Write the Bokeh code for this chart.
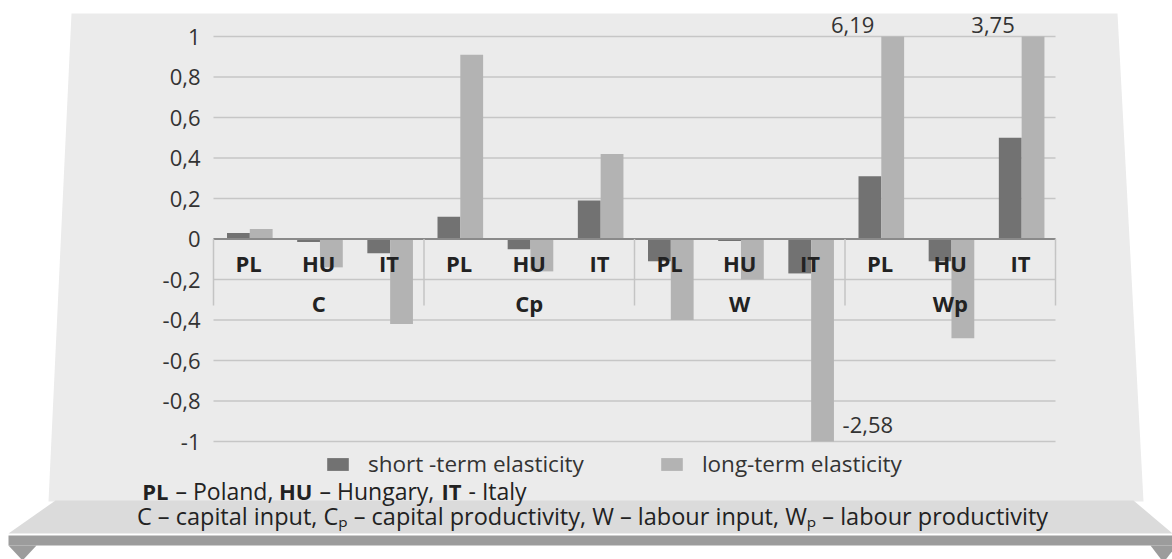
import numpy as np
from bokeh.plotting import figure
from bokeh.models import Range1d, PolyAnnotation, Legend, LegendItem, ColumnDataSource
from bokeh.core.properties import value
from bokeh.embed import file_html
from bokeh.resources import INLINE

# ---------------- data ----------------
groups = ["C", "Cp", "W", "Wp"]
countries = ["PL", "HU", "IT"]
short_term = [0.03, -0.015, -0.07, 0.11, -0.05, 0.19, -0.11, -0.01, -0.17, 0.31, -0.11, 0.50]
long_term = [0.05, -0.14, -0.42, 0.91, -0.16, 0.42, -0.40, -0.20, -2.58, 6.19, -0.49, 3.75]
y_ticks = [-1, -0.8, -0.6, -0.4, -0.2, 0, 0.2, 0.4, 0.6, 0.8, 1]
series_names = ["short -term elasticity", "long-term elasticity"]
note_codes = ["PL", "HU", "IT"]
note_names = ["– Poland,", "– Hungary,", "- Italy"]
note_vars = "C – capital input, Cₚ – capital productivity, W – labour input, Wₚ – labour productivity"

# ---------------- styling / geometry ----------------
FONT = "Open Sans"
C_SHORT, C_LONG = "#727272", "#b3b3b3"
C_PANEL, C_BAND, C_BAR = "#ebebeb", "#dbdbdb", "#9c9c9c"
TXT = "#333333"
Y_MIN, Y_MAX = -1, 1
W, H = 1172, 559
FL, FR, FT, FB = 213, 1055, 36, 441          # plot area in page pixels
n = len(groups) * len(countries)
ux = (FR - FL) / n                             # px per category
uy = (FB - FT) / (Y_MAX - Y_MIN)               # px per unit

def dx(X):
    return (X - FL) / ux

def dy(Y):
    return Y_MAX - (Y - FT) / uy

p = figure(width=W, height=H, output_backend="svg", toolbar_location=None,
           x_range=Range1d(dx(0), dx(W)), y_range=Range1d(dy(H), dy(0)),
           x_axis_location=None, y_axis_location=None,
           min_border=0, min_border_left=0, min_border_right=0,
           min_border_top=0, min_border_bottom=0)
p.background_fill_color = "white"
p.border_fill_color = "white"
p.outline_line_color = None
p.grid.visible = False

# ---------------- decorations (shelf) ----------------
def poly(pts, color):
    p.add_layout(PolyAnnotation(xs=[dx(a) for a, b in pts], ys=[dy(b) for a, b in pts],
                                fill_color=color, fill_alpha=1, line_color=None, level="underlay"))

poly([(71, 13), (1117, 13), (1143, 501), (48, 501)], C_PANEL)
poly([(55, 500), (1133, 500), (1172, 533), (8, 533)], C_BAND)
poly([(8, 535), (1172, 535), (1172, 545), (8, 545)], C_BAR)
poly([(8, 545), (36, 545), (22, 560)], C_BAR)
poly([(1150, 545), (1176, 545), (1163, 562)], C_BAR)

# ---------------- value axis: grid + tick labels ----------------
p.segment(x0=[0] * len(y_ticks), x1=[n] * len(y_ticks), y0=y_ticks, y1=y_ticks,
          line_color="#c6c6c6", line_width=1.5)
tick_text = [f"{t:g}".replace(".", ",") for t in y_ticks]
p.text(x=[0] * len(y_ticks), y=y_ticks, text=tick_text, x_offset=-13, text_align="right",
       text_baseline="middle", text_font=value(FONT), text_font_size="22px", text_color=TXT)

# ---------------- bars ----------------
xc = np.arange(n) + 0.5
OFF_S, OFF_L, BW = -0.145, 0.18, 0.325
src = ColumnDataSource(dict(xs=xc + OFF_S, xl=xc + OFF_L, xc=xc,
                            short=np.clip(short_term, Y_MIN, Y_MAX),
                            long=np.clip(long_term, Y_MIN, Y_MAX),
                            country=[c for g in groups for c in countries]))
r_s = p.vbar(x="xs", top="short", bottom=0, width=BW, source=src, fill_color=C_SHORT, line_color=None)
r_l = p.vbar(x="xl", top="long", bottom=0, width=BW, source=src, fill_color=C_LONG, line_color=None)

# zero line
p.segment(x0=[0], x1=[n], y0=[0], y1=[0], line_color="#8a8a8a", line_width=2)

# category separators
bounds = [len(countries) * i for i in range(len(groups) + 1)]
p.segment(x0=bounds, x1=bounds, y0=[0] * len(bounds), y1=[dy(305)] * len(bounds),
          line_color="#c4c4c4", line_width=1.5)

# category labels
p.text(x="xc", y=0, text="country", source=src, y_offset=24, text_align="center",
       text_baseline="middle", text_font=value(FONT), text_font_style="bold",
       text_font_size="22px", text_color="#222222")
gx = [len(countries) * (i + 0.5) for i in range(len(groups))]
p.text(x=gx, y=[0] * len(groups), text=groups, y_offset=64, text_align="center",
       text_baseline="middle", text_font=value(FONT), text_font_style="bold",
       text_font_size="22px", text_color="#222222")

# out-of-range value labels
hi = [i for i, v in enumerate(long_term) if v > Y_MAX]
lo = [i for i, v in enumerate(long_term) if v < Y_MIN]
fmt = lambda v: f"{v:.2f}".replace(".", ",")
p.text(x=[xc[i] + OFF_L for i in hi], y=[Y_MAX] * len(hi), text=[fmt(long_term[i]) for i in hi],
       x_offset=-40, y_offset=-12, text_align="center", text_baseline="middle",
       text_font=value(FONT), text_font_size="22px", text_color=TXT)
p.text(x=[xc[i] + OFF_L for i in lo], y=[Y_MIN] * len(lo), text=[fmt(long_term[i]) for i in lo],
       x_offset=20, y_offset=-17, text_align="left", text_baseline="middle",
       text_font=value(FONT), text_font_size="22px", text_color=TXT)

# ---------------- legend ----------------
legend = Legend(items=[LegendItem(label=series_names[0], renderers=[r_s]),
                       LegendItem(label=series_names[1], renderers=[r_l])],
                orientation="horizontal", location=(324, H - 479), padding=0, margin=0,
                spacing=74, glyph_width=27, glyph_height=16, label_standoff=17,
                label_text_font=FONT, label_text_font_size="22.5px", label_text_color=TXT,
                background_fill_alpha=0, border_line_alpha=0)
p.add_layout(legend)

# ---------------- footnotes ----------------
code_right = [168, 312, 461]     # right edges of the bold country codes (px)
name_left = [175, 319, 468]      # left edges of the country names (px)
p.text(x=[dx(X) for X in code_right], y=[dy(490)] * 3, text=note_codes,
       text_align="right", text_baseline="middle", text_font=value(FONT),
       text_font_style="bold", text_font_size="22px", text_color="#222222")
p.text(x=[dx(X) for X in name_left], y=[dy(490)] * 3, text=note_names,
       text_align="left", text_baseline="middle", text_font=value(FONT),
       text_font_size="23px", text_color="#222222")
p.text(x=[dx(592)], y=[dy(515)], text=[note_vars], text_align="center",
       text_baseline="middle", text_font=value(FONT), text_font_size="23.5px",
       text_color="#222222")

open("out.html", "w").write(file_html(p, INLINE))
